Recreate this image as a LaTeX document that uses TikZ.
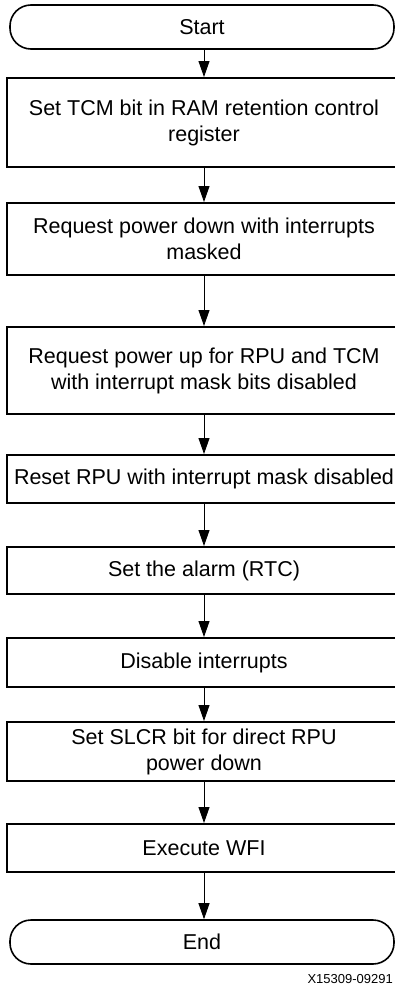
\documentclass[tikz,border=0pt]{standalone}
\usepackage{fontspec}
\setmainfont{Liberation Sans}
\usetikzlibrary{arrows.meta}
\begin{document}
\begin{tikzpicture}[x=1pt,y=1pt,
  stepbox/.style={draw, line width=2pt, rectangle, minimum width=394pt, inner sep=0pt,
    align=center, font=\fontsize{21.5}{26}\selectfont},
  term/.style={draw, line width=1.6pt, rectangle, rounded corners=21pt, minimum width=384pt,
    minimum height=44pt, inner sep=0pt, font=\fontsize{21.5}{26}\selectfont},
  flow/.style={line width=0.9pt, -{Triangle[length=16pt,width=11pt]}}]
\useasboundingbox (0,0) rectangle (395,-988);
\node[term] (start) at (202,-27) {Start};
\node[stepbox, minimum height=89pt] (b1) at (204,-122.5) {Set TCM bit in RAM retention control\\register};
\node[stepbox, minimum height=72pt] (b2) at (204,-239) {Request power down with interrupts\\masked};
\node[stepbox, minimum height=87pt] (b3) at (204,-370.5) {Request power up for RPU and TCM\\with interrupt mask bits disabled};
\node[stepbox, minimum height=48pt] (b4) at (204,-479) {Reset RPU with interrupt mask disabled};
\node[stepbox, minimum height=47pt] (b5) at (204,-570.5) {Set the alarm (RTC)};
\node[stepbox, minimum height=49pt] (b6) at (204,-662.5) {Disable interrupts};
\node[stepbox, minimum height=59pt] (b7) at (204,-751.5) {Set SLCR bit for direct RPU\\power down};
\node[stepbox, minimum height=48pt] (b8) at (204,-848) {Execute WFI};
\node[term] (end) at (202,-942) {End};
\node[anchor=east, inner sep=0pt, font=\fontsize{13}{15}\selectfont] (lbl) at (393,-979) {X15309-09291};
\draw[flow] (start.south -| b1.north) -- (b1.north);
\draw[flow] (b1) -- (b2);
\draw[flow] (b2) -- (b3);
\draw[flow] (b3) -- (b4);
\draw[flow] (b4) -- (b5);
\draw[flow] (b5) -- (b6);
\draw[flow] (b6) -- (b7);
\draw[flow] (b7) -- (b8);
\draw[flow] (b8.south) -- (b8.south |- end.north);
\end{tikzpicture}
\end{document}
